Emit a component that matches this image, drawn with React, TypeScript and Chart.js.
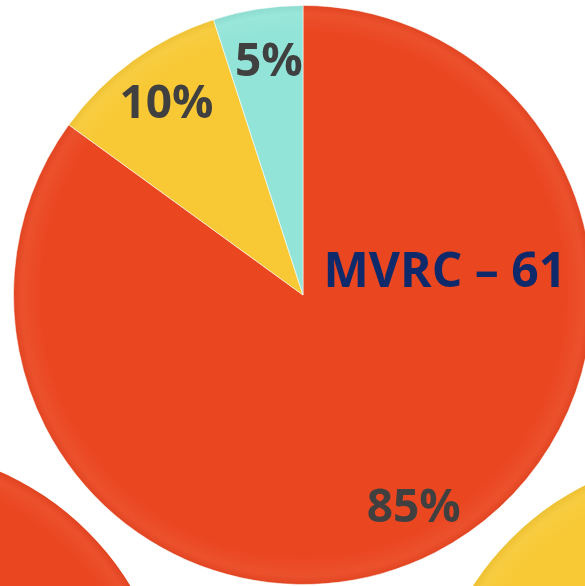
import React, { useEffect, useRef } from "react";
import { Chart, registerables } from "chart.js";

Chart.register(...registerables);

// ---- data ----
const categories = ["MVRC – 61", "Segment B", "Segment C"];
const shareValues = [85, 10, 5];
const shareLabels = ["85%", "10%", "5%"];
const sliceColors = ["#EA4620", "#F8C935", "#92E4D8"];
const titleText = "MVRC – 61";

// neighbouring (cropped) pies
const leftPieValues = [100];
const leftPieColors = ["#EA4620"];
const rightPieValues = [100];
const rightPieColors = ["#F8C935"];

function shade(hex: string, amt: number): string {
  const n = parseInt(hex.slice(1), 16);
  let r = (n >> 16) & 255, g = (n >> 8) & 255, b = n & 255;
  const f = (c: number) =>
    Math.max(0, Math.min(255, Math.round(amt >= 0 ? c + (255 - c) * amt : c * (1 + amt))));
  return `rgb(${f(r)},${f(g)},${f(b)})`;
}

function gradientFill(colors: string[]) {
  return (ctx: any) => {
    const chart = ctx.chart;
    const area = chart.chartArea;
    const base = colors[ctx.dataIndex % colors.length];
    if (!area) return base;
    const cx = (area.left + area.right) / 2;
    const cy = (area.top + area.bottom) / 2;
    const r = Math.min(area.right - area.left, area.bottom - area.top) / 2;
    const g = chart.ctx.createRadialGradient(cx, cy, 0, cx, cy, r);
    g.addColorStop(0, base);
    g.addColorStop(0.9, base);
    g.addColorStop(0.97, shade(base, 0.06));
    g.addColorStop(1, shade(base, -0.04));
    return g;
  };
}

const labelPlugin = {
  id: "sliceLabels",
  afterDatasetsDraw(chart: any) {
    const meta = chart.getDatasetMeta(0);
    const ctx = chart.ctx;
    ctx.save();
    ctx.textAlign = "center";
    ctx.textBaseline = "middle";
    ctx.font = "bold 46px 'Open Sans'";
    ctx.fillStyle = "#404040";
    meta.data.forEach((arc: any, i: number) => {
      const p = arc.getProps(["x", "y", "startAngle", "endAngle", "outerRadius"], true);
      const mid = (p.startAngle + p.endAngle) / 2;
      const rr = p.outerRadius * 0.82;
      ctx.fillText(shareLabels[i], p.x + Math.cos(mid) * rr + 3, p.y + Math.sin(mid) * rr + 2);
    });
    const a0 = meta.data[0].getProps(["x", "y", "outerRadius"], true);
    ctx.font = "bold 48px 'Open Sans'";
    ctx.fillStyle = "#0F2A6B";
    ctx.fillText(titleText, a0.x + a0.outerRadius * 0.49, a0.y - a0.outerRadius * 0.075);
    ctx.restore();
  },
};

function makePie(canvas: HTMLCanvasElement, values: number[], colors: string[], labels: string[], withLabels: boolean) {
  return new Chart(canvas, {
    type: "pie",
    data: {
      labels,
      datasets: [
        {
          data: values,
          backgroundColor: gradientFill(colors) as any,
          borderColor: "rgba(255,255,255,0.55)",
          borderWidth: values.length > 1 ? 1 : 0,
        },
      ],
    },
    options: {
      responsive: false,
      animation: false,
      devicePixelRatio: 1,
      layout: { padding: 0 },
      plugins: { legend: { display: false }, tooltip: { enabled: false } },
    },
    plugins: withLabels ? [labelPlugin] : [],
  });
}

export default function App() {
  const mainRef = useRef<HTMLCanvasElement>(null);
  const leftRef = useRef<HTMLCanvasElement>(null);
  const rightRef = useRef<HTMLCanvasElement>(null);

  useEffect(() => {
    const charts = [
      makePie(leftRef.current!, leftPieValues, leftPieColors, ["A"], false),
      makePie(rightRef.current!, rightPieValues, rightPieColors, ["B"], false),
      makePie(mainRef.current!, shareValues, sliceColors, categories, true),
    ];
    return () => charts.forEach((c) => c.destroy());
  }, []);

  const abs = (left: number, top: number): React.CSSProperties => ({
    position: "absolute",
    left,
    top,
    width: 580,
    height: 580,
  });

  return (
    <div
      style={{
        position: "fixed",
        left: 0,
        top: 0,
        width: 585,
        height: 586,
        overflow: "hidden",
        background: "#ffffff",
      }}
    >
      <canvas ref={leftRef} width={580} height={580} style={abs(-407, 447)} />
      <canvas ref={rightRef} width={580} height={580} style={abs(426, 454)} />
      <canvas ref={mainRef} width={580} height={580} style={abs(13, 5)} />
    </div>
  );
}
